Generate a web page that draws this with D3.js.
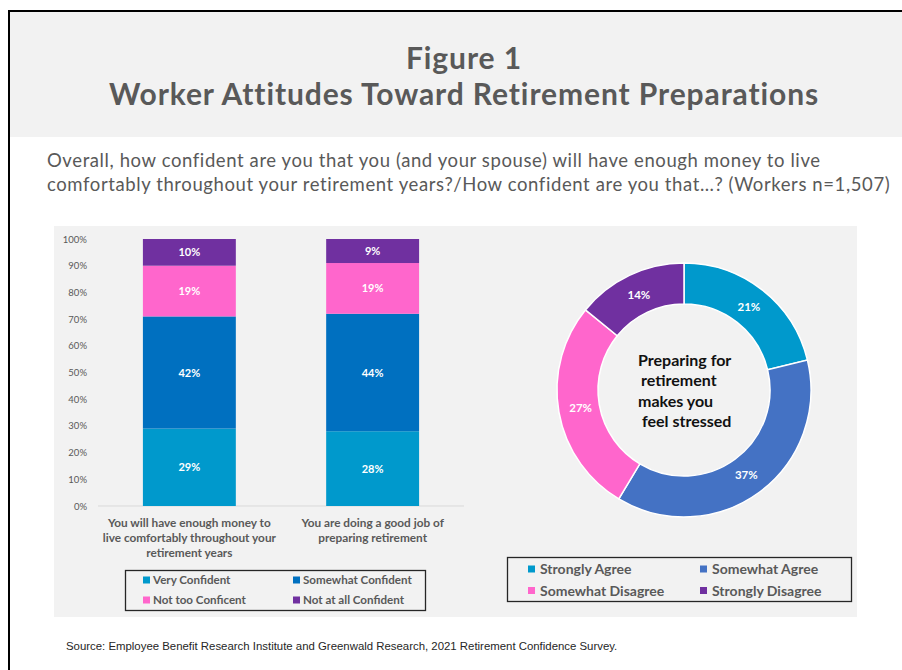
<!DOCTYPE html>
<html>
<head>
<meta charset="utf-8">
<script src="https://cdn.jsdelivr.net/npm/d3@7"></script>
<style>
  html, body { margin: 0; padding: 0; background: #ffffff; }
  svg { display: block; }
</style>
</head>
<body>
<script>
// ---- Data ----
const barCategories = [
  ["You will have enough money to", "live comfortably throughout your", "retirement years"],
  ["You are doing a good job of", "preparing retirement"]
];
const confidenceLevels = ["Very Confident", "Somewhat Confident", "Not too Conficent", "Not at all Confident"];
const enoughMoneyValues = [29, 42, 19, 10];
const goodJobValues = [28, 44, 19, 9];
const yTickValues = [0, 10, 20, 30, 40, 50, 60, 70, 80, 90, 100];

const stressLevels = ["Strongly Agree", "Somewhat Agree", "Somewhat Disagree", "Strongly Disagree"];
const stressValues = [21, 37, 27, 14];
const stressCenterLines = ["Preparing for", "retirement", "makes you", "feel stressed"];

// ---- Styles ----
const confidenceColors = ["#0099cc", "#0070c0", "#ff66cc", "#7030a0"];
const stressColors = ["#0099cc", "#4472c4", "#ff66cc", "#7030a0"];
const textGray = "#595959";
const titleFont = "'Lato', 'Open Sans', sans-serif";
const bodyFont = "'Lato', 'Open Sans', sans-serif";

const W = 902, H = 670;
const svg = d3.select("body").append("svg").attr("width", W).attr("height", H);

// ---- Page frame and header band ----
svg.append("rect").attr("x", 10).attr("y", 12).attr("width", W - 10).attr("height", 125).attr("fill", "#f2f2f2");
svg.append("path").attr("d", `M9,${H} V11 H${W}`).attr("fill", "none").attr("stroke", "#000").attr("stroke-width", 2);

svg.append("text").attr("x", 464).attr("y", 69).attr("text-anchor", "middle")
  .attr("font-family", titleFont).attr("font-weight", 700).attr("font-size", 30)
  .attr("letter-spacing", 0.9).attr("fill", textGray)
  .text("Figure 1");
svg.append("text").attr("x", 464).attr("y", 105).attr("text-anchor", "middle")
  .attr("font-family", titleFont).attr("font-weight", 700).attr("font-size", 30)
  .attr("letter-spacing", 0.9).attr("fill", textGray)
  .text("Worker Attitudes Toward Retirement Preparations");

const subtitle = svg.append("text").attr("font-family", bodyFont).attr("font-size", 18.5)
  .attr("letter-spacing", 0.6).attr("fill", textGray);
subtitle.append("tspan").attr("x", 47).attr("y", 167)
  .text("Overall, how confident are you that you (and your spouse) will have enough money to live");
subtitle.append("tspan").attr("x", 47).attr("y", 191)
  .text("comfortably throughout your retirement years?/How confident are you that\u2026? (Workers n=1,507)");

// ---- Chart panel background ----
svg.append("rect").attr("x", 54).attr("y", 226).attr("width", 803).attr("height", 391).attr("fill", "#f2f2f2");

// ---- Stacked bar chart ----
const barRows = [enoughMoneyValues, goodJobValues].map((vals, i) => {
  const row = { key: i };
  confidenceLevels.forEach((c, j) => row[c] = vals[j]);
  return row;
});
const stacked = d3.stack().keys(confidenceLevels)(barRows);

const x = d3.scaleBand().domain(d3.range(barCategories.length)).range([98, 464])
  .paddingInner(0.493).paddingOuter(0.245);
const y = d3.scaleLinear().domain([0, 100]).range([506, 239]);

const barG = svg.append("g");
const yAxis = barG.append("g").attr("transform", "translate(92,0)")
  .call(d3.axisLeft(y).tickValues(yTickValues).tickFormat(d => d + "%").tickSize(0).tickPadding(5));
yAxis.select(".domain").remove();
yAxis.selectAll("text").attr("font-family", bodyFont).attr("font-size", 9.5).attr("fill", textGray);

barG.append("line").attr("x1", 98).attr("x2", 464).attr("y1", y(0)).attr("y2", y(0))
  .attr("stroke", "#d9d9d9").attr("stroke-width", 1);

const layers = barG.selectAll("g.layer").data(stacked).join("g").attr("class", "layer")
  .attr("fill", (d, i) => confidenceColors[i]);
layers.selectAll("rect").data(d => d).join("rect")
  .attr("x", (d, i) => x(i)).attr("width", x.bandwidth())
  .attr("y", d => y(d[1])).attr("height", d => y(d[0]) - y(d[1]));
layers.selectAll("text").data((d) => d.map(s => ({ s, key: d.key }))).join("text")
  .attr("x", (d, i) => x(i) + x.bandwidth() / 2)
  .attr("y", d => (y(d.s[0]) + y(d.s[1])) / 2 + 4)
  .attr("text-anchor", "middle").attr("font-family", bodyFont).attr("font-weight", 700)
  .attr("font-size", 11).attr("fill", "#fff")
  .text(d => (d.s[1] - d.s[0]) + "%");

// category labels under the bars
barCategories.forEach((lines, i) => {
  const t = barG.append("text").attr("text-anchor", "middle").attr("font-family", bodyFont)
    .attr("font-weight", 700).attr("font-size", 11.8).attr("fill", textGray);
  lines.forEach((ln, k) => {
    t.append("tspan").attr("x", x(i) + x.bandwidth() / 2).attr("y", 527 + k * 15).text(ln);
  });
});

// bar legend
barG.append("rect").attr("x", 125.5).attr("y", 570.5).attr("width", 300).attr("height", 40)
  .attr("fill", "none").attr("stroke", "#262626").attr("stroke-width", 1.3);
confidenceLevels.forEach((c, i) => {
  const col = i % 2, row = Math.floor(i / 2);
  const lx = 143 + col * 150, ly = 580 + row * 20;
  barG.append("rect").attr("x", lx).attr("y", ly - 3.5).attr("width", 7).attr("height", 7).attr("fill", confidenceColors[i]);
  barG.append("text").attr("x", lx + 10).attr("y", ly + 4).attr("font-family", bodyFont)
    .attr("font-weight", 700).attr("font-size", 11.6).attr("fill", textGray).text(c);
});

// ---- Donut chart ----
const cx = 684, cy = 390, rOuter = 127, rInner = 86;
const pie = d3.pie().sort(null).value(d => d);
const arcs = pie(stressValues);
const arc = d3.arc().innerRadius(rInner).outerRadius(rOuter);
const labelArc = d3.arc().innerRadius(105).outerRadius(105);
const donutG = svg.append("g").attr("transform", `translate(${cx},${cy})`);
donutG.selectAll("path").data(arcs).join("path")
  .attr("d", arc).attr("fill", (d, i) => stressColors[i])
  .attr("stroke", "#fff").attr("stroke-width", 1.5);
donutG.selectAll("text.val").data(arcs).join("text").attr("class", "val")
  .attr("transform", d => `translate(${labelArc.centroid(d)})`)
  .attr("dy", 4).attr("text-anchor", "middle").attr("font-family", bodyFont)
  .attr("font-weight", 700).attr("font-size", 11.5).attr("fill", "#fff")
  .text(d => d.data + "%");

const centerOffsets = [-46, -43, -46, -42];
const ct = donutG.append("text").attr("font-family", bodyFont).attr("font-weight", 700)
  .attr("font-size", 16).attr("fill", "#111");
stressCenterLines.forEach((ln, k) => {
  ct.append("tspan").attr("x", centerOffsets[k]).attr("y", -24.5 + k * 20.5).text(ln);
});

// donut legend
svg.append("rect").attr("x", 507.5).attr("y", 557.5).attr("width", 344).attr("height", 44)
  .attr("fill", "none").attr("stroke", "#262626").attr("stroke-width", 1.3);
stressLevels.forEach((c, i) => {
  const col = i % 2, row = Math.floor(i / 2);
  const lx = 528 + col * 172, ly = 569 + row * 21.5;
  svg.append("rect").attr("x", lx).attr("y", ly - 3.5).attr("width", 7).attr("height", 7).attr("fill", stressColors[i]);
  svg.append("text").attr("x", lx + 12).attr("y", ly + 5).attr("font-family", bodyFont)
    .attr("font-weight", 700).attr("font-size", 14).attr("fill", textGray).text(c);
});

// ---- Source note ----
svg.append("text").attr("x", 66).attr("y", 650)
  .attr("font-family", "'Liberation Sans Narrow', 'Liberation Sans', sans-serif")
  .attr("font-size", 11.4).attr("fill", "#262626")
  .text("Source:  Employee Benefit Research Institute and Greenwald Research, 2021 Retirement Confidence Survey.");
</script>
</body>
</html>
